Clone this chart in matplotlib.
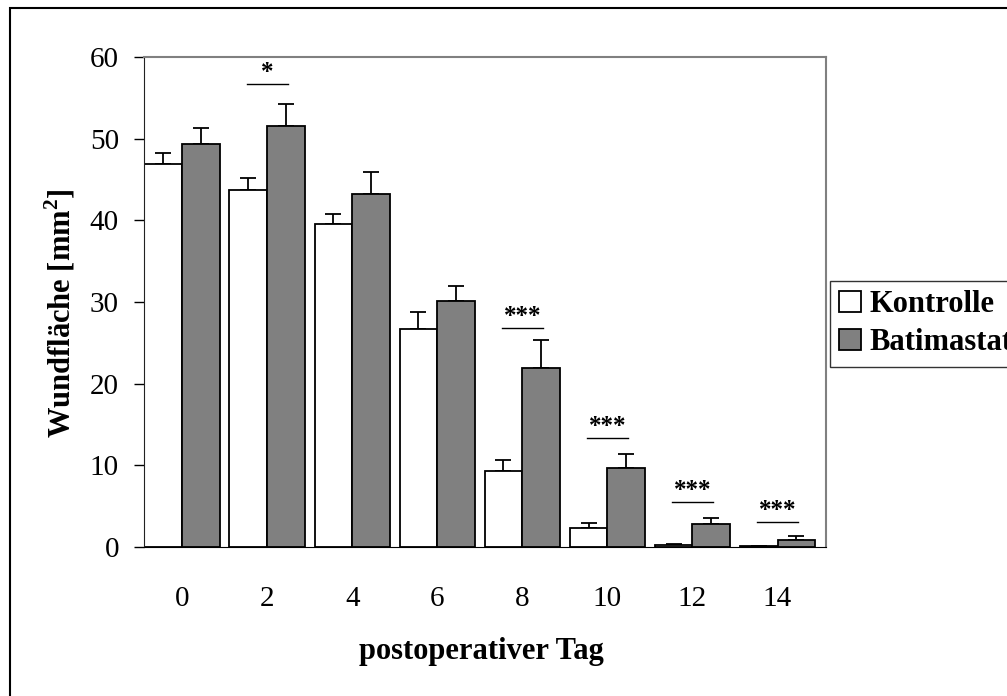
import numpy as np
import matplotlib
matplotlib.use("Agg")
import matplotlib.pyplot as plt
from matplotlib.patches import Rectangle

plt.rcParams['font.family'] = ['Liberation Serif', 'DejaVu Serif']
plt.rcParams['mathtext.fontset'] = 'custom'
plt.rcParams['mathtext.bf'] = 'Liberation Serif:bold'

# Data
days = ['0', '2', '4', '6', '8', '10', '12', '14']
kontrolle = [46.9, 43.7, 39.5, 26.7, 9.3, 2.3, 0.3, 0.1]
kontrolle_err = [1.4, 1.5, 1.3, 2.1, 1.3, 0.7, 0.1, 0.05]
batimastat = [49.3, 51.5, 43.2, 30.1, 21.9, 9.7, 2.8, 0.8]
batimastat_err = [2.0, 2.7, 2.7, 1.8, 3.4, 1.7, 0.7, 0.5]

# significance marks: group index, label, height of the bar line
sig_groups = [1, 4, 5, 6, 7]
sig_labels = ['*', '***', '***', '***', '***']
sig_heights = [56.7, 26.8, 13.3, 5.5, 3.1]

W, H = 1007, 696
fig = plt.figure(figsize=(W / 100, H / 100), dpi=100)
ax = fig.add_axes([144 / W, 1 - 547 / H, (826 - 144) / W, (547 - 57) / H])

x = np.arange(len(days))
w = 0.445

ax.bar(x - w / 2, kontrolle, w, color='white', edgecolor='black',
       linewidth=1.3, label='Kontrolle', zorder=2)
ax.bar(x + w / 2, batimastat, w, color='#808080', edgecolor='black',
       linewidth=1.3, label='Batimastat', zorder=2)

# upper error bars only
ax.errorbar(x - w / 2, kontrolle, yerr=[np.zeros(len(x)), kontrolle_err],
            fmt='none', ecolor='black', elinewidth=1.3, capsize=5.5,
            capthick=1.3, zorder=1)
ax.errorbar(x + w / 2, batimastat, yerr=[np.zeros(len(x)), batimastat_err],
            fmt='none', ecolor='black', elinewidth=1.3, capsize=5.5,
            capthick=1.3, zorder=1)

for g, lab, hgt in zip(sig_groups, sig_labels, sig_heights):
    ax.plot([g - 0.24, g + 0.24], [hgt, hgt], color='black', lw=1)
    ax.annotate(lab, (g, hgt), xytext=(0, 0), textcoords='offset points',
                ha='center', va='bottom', fontsize=18, fontweight='bold')

ax.set_xlim(-0.45, 7.57)
ax.set_ylim(0, 60)
ax.set_yticks(range(0, 61, 10))
ax.set_xticks(x)
ax.set_xticklabels(days)
ax.tick_params(axis='y', direction='out', length=7, width=1, pad=11,
               labelsize=21)
ax.tick_params(axis='x', length=0, pad=28, labelsize=21)

ax.spines['top'].set_color('#808080')
ax.spines['right'].set_color('#808080')
ax.spines['top'].set_linewidth(1.5)
ax.spines['right'].set_linewidth(1.5)
ax.spines['left'].set_color('#222222')
ax.spines['bottom'].set_color('black')

fig.text(60 / W, 1 - 313 / H, r'Wundfläche [mm$^{\mathbf{2}}$]', rotation=90,
         ha='center', va='center', fontsize=22, fontweight='bold')
fig.text(481 / W, 1 - 652 / H, 'postoperativer Tag', ha='center',
         va='center', fontsize=22, fontweight='bold')

leg = fig.legend(loc='upper left', bbox_to_anchor=(830 / W, 1 - 281 / H),
                 prop={'weight': 'bold', 'size': 22},
                 frameon=True, fancybox=False, handlelength=0.7,
                 handleheight=0.7, handletextpad=0.3, borderpad=0.3,
                 labelspacing=0.3, borderaxespad=0)
leg.get_frame().set_edgecolor('black')
leg.get_frame().set_linewidth(1)

# outer frame of the figure (right and bottom edges fall outside)
fig.patches.append(Rectangle((9.5 / W, -0.1), 1.2, 1.1 - 8 / H,
                             transform=fig.transFigure, fill=False,
                             edgecolor='black', linewidth=1.5))

fig.savefig('out.png', dpi=100)
